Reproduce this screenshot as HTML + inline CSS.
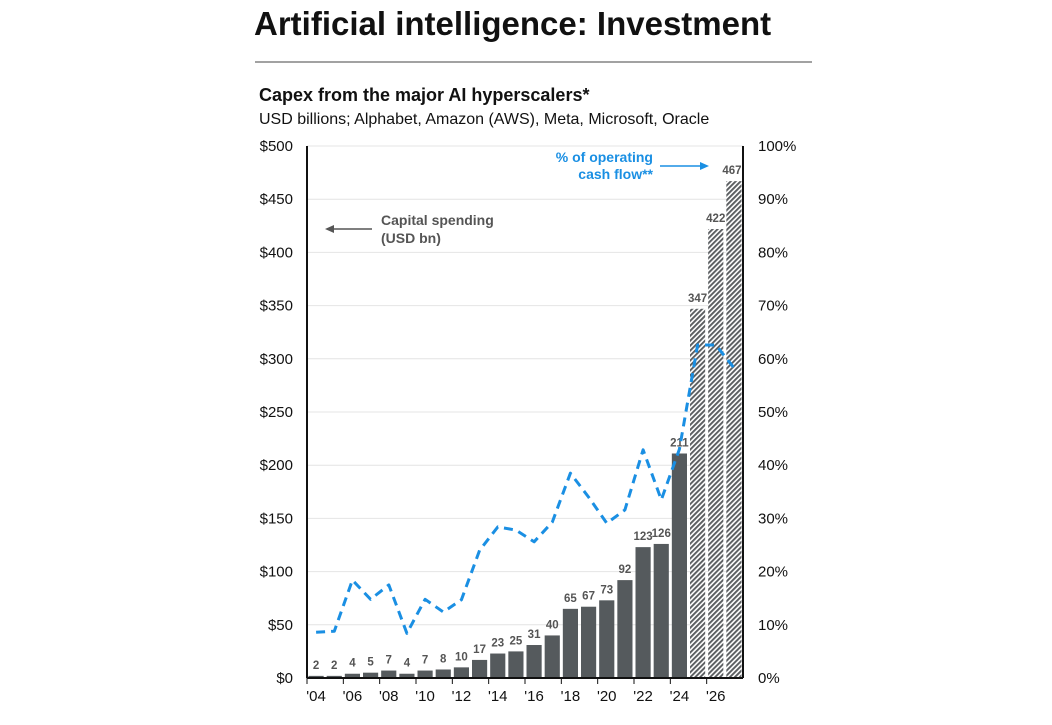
<!DOCTYPE html>
<html><head><meta charset="utf-8"><style>
body{margin:0;background:#fff;font-family:"Liberation Sans",sans-serif;}
</style></head><body>
<svg width="1052" height="720" xmlns="http://www.w3.org/2000/svg">
<defs><pattern id="hatch" width="3.5" height="3.5" patternUnits="userSpaceOnUse" patternTransform="rotate(45)"><rect width="3.5" height="3.5" fill="#fff"/><rect width="1.9" height="3.5" fill="#5a5d60"/></pattern></defs>
<text x="254" y="35" font-size="33" font-weight="bold" fill="#111">Artificial intelligence: Investment</text>
<line x1="255" y1="62" x2="812" y2="62" stroke="#444" stroke-width="1"/>
<text x="259" y="101" font-size="18" font-weight="bold" fill="#111">Capex from the major AI hyperscalers*</text>
<text x="259" y="124" font-size="16" fill="#111">USD billions; Alphabet, Amazon (AWS), Meta, Microsoft, Oracle</text>
<g id="grid"></g><g id="bars"></g><g id="line"></g><g id="axes"></g>
<text x="381" y="225" font-size="14" font-weight="bold" fill="#555">Capital spending</text>
<text x="381" y="243" font-size="14" font-weight="bold" fill="#555">(USD bn)</text>
<line x1="372" y1="229" x2="332" y2="229" stroke="#555" stroke-width="1.5"/>
<polygon points="325,229 334,225 334,233" fill="#555"/>
<text x="653" y="162" font-size="14" font-weight="bold" fill="#1a8fe3" text-anchor="end">% of operating</text>
<text x="653" y="179" font-size="14" font-weight="bold" fill="#1a8fe3" text-anchor="end">cash flow**</text>
<line x1="660" y1="166" x2="700" y2="166" stroke="#1a8fe3" stroke-width="1.5"/>
<polygon points="709,166 700,162 700,170" fill="#1a8fe3"/>
</svg>
<script>
const years=[2004,2005,2006,2007,2008,2009,2010,2011,2012,2013,2014,2015,2016,2017,2018,2019,2020,2021,2022,2023,2024,2025,2026,2027];
const capex=[2,2,4,5,7,4,7,8,10,17,23,25,31,40,65,67,73,92,123,126,211,347,422,467];
const ocfPct=[8.6,8.8,18.4,14.8,17.5,8.4,14.8,12.4,14.7,24,28.4,27.8,25.6,29.3,38.5,34,29.1,31.6,42.9,33.5,43,62.6,62.6,58.3];
const forecastFrom=2025;
const leftTicks=[0,50,100,150,200,250,300,350,400,450,500];
const rightTicks=[0,10,20,30,40,50,60,70,80,90,100];
const NS="http://www.w3.org/2000/svg";
const L=307,R=743,T=146,B=678,slot=(R-L)/years.length;
const xc=i=>L+slot*(i+0.5);
const yL=v=>B-(v/500)*(B-T);
const yR=v=>B-(v/100)*(B-T);
function mk(tag,attrs,parent,txt){const e=document.createElementNS(NS,tag);for(const k in attrs)e.setAttribute(k,attrs[k]);if(txt!==undefined)e.textContent=txt;document.getElementById(parent).appendChild(e);return e;}
leftTicks.forEach((t,i)=>{
 if(t>0){const g=mk('line',{x1:L,x2:R,y1:yL(t),y2:yL(t),stroke:'#e4e4e4','stroke-width':1},'grid');
 
 }
 const a=mk('text',{x:293,y:yL(t)+5,'font-size':15,'text-anchor':'end',fill:'#111'},'axes','$'+t);
 
 
});
rightTicks.forEach(t=>{
 const a=mk('text',{x:758,y:yR(t)+5,'font-size':15,fill:'#111'},'axes',t+'%');
 
 
});
years.forEach((y,i)=>{
 const v=capex[i],bw=slot-3,x=xc(i)-bw/2;
 const r=mk('rect',{x:x,y:yL(v),width:bw,height:B-yL(v),fill:y>=forecastFrom?'url(#hatch)':'#555a5d'},'bars');
 
 
 const lb=mk('text',{x:xc(i)+(y===2027?-2:0),y:yL(v)-7,'font-size':11.5,'font-weight':'bold','text-anchor':'middle',fill:'#555'},'bars',String(v));
 
 
 if(y%2===0){
  const xl=mk('text',{x:xc(i),y:701,'font-size':15,'text-anchor':'middle',fill:'#111'},'axes',"'"+String(y).slice(2));
  
  
  const tk=mk('line',{x1:xc(i)-slot/2,x2:xc(i)-slot/2,y1:B,y2:B+6,stroke:'#111'},'axes');
  
  
 }
});
const pts=ocfPct.map((p,i)=>xc(i).toFixed(1)+','+yR(p).toFixed(1)).join(' ');
const pl=mk('polyline',{points:pts,fill:'none',stroke:'#1a8fe3','stroke-width':3,'stroke-dasharray':'9,6','stroke-linejoin':'round'},'line');


const ax1=mk('line',{x1:L,x2:L,y1:T,y2:B,stroke:'#111','stroke-width':2},'axes');


const ax2=mk('line',{x1:R,x2:R,y1:T,y2:B,stroke:'#111','stroke-width':2},'axes');


const ax3=mk('line',{x1:L,x2:R,y1:B,y2:B,stroke:'#111','stroke-width':2},'axes');


</script>
</body></html>
